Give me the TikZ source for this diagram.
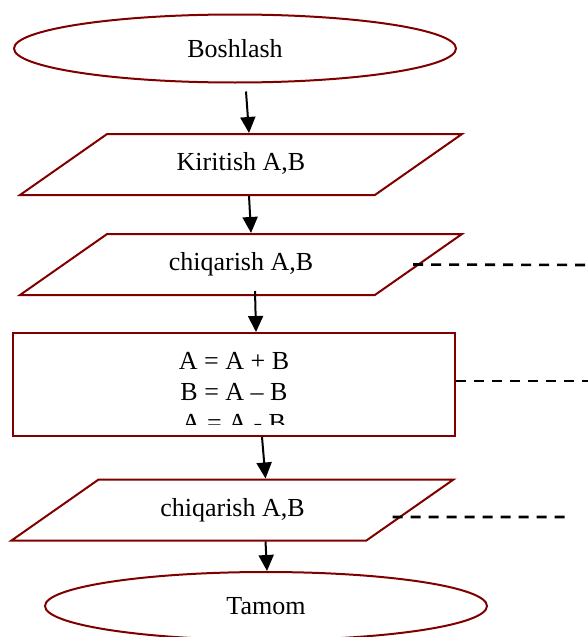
\documentclass[tikz,border=0pt]{standalone}
\usepackage{fontspec}
\setmainfont{Liberation Serif}
\usetikzlibrary{shapes.geometric,arrows.meta}
\definecolor{qizil}{HTML}{800000}
\tikzset{
  chegara/.style={draw=qizil,line width=1pt,inner sep=0pt},
  oval/.style={chegara,ellipse,minimum width=221pt,minimum height=34pt},
  kiritma/.style={chegara,trapezium,trapezium left angle=35,trapezium right angle=145,
    trapezium stretches body,minimum width=221pt,text height=9pt,text depth=3pt,inner ysep=9.25pt},
  blok/.style={chegara,rectangle,minimum width=221pt,minimum height=51.5pt},
  strelka/.style={-{Triangle[length=8pt,width=7.5pt]},line width=1pt},
  uzuq/.style={line width=1.3pt,dash pattern=on 5pt off 4pt}
}
\begin{document}
\begin{tikzpicture}[x=0.5pt,y=-0.5pt,font=\fontsize{13}{15.5}\selectfont]
                \useasboundingbox (0,0) rectangle (588,637);
                % Boshlash
                \node[oval] (boshlash) at (235,48.5) {Boshlash};
                
                % Kiritish
                \node[kiritma] (kiritish) at (241,164.5) {Kiritish A,B};
                
                % chiqarish
                \node[kiritma] (chiq1) at (241,264.5) {chiqarish A,B};
                
                % almashtirish
                \node[blok] (hisob) at (234,384.5) {};
                \begin{scope}
                  \clip (14,334) rectangle (454,424);
                  \node[align=center] (hisobmatn) at (234,392) {A = A + B\\B = A -- B\\A = A - B};
                \end{scope}
                
                % chiqarish
                \node[kiritma] (chiq2) at (232.5,510) {chiqarish A,B};
                
                % Tamom
                \node[oval] (tamom) at (266,606) {Tamom};
                
                % Connections
                \draw[strelka] ([xshift=5.5pt,yshift=-4pt]boshlash.south) -- ([xshift=4pt]kiritish.north);
                \draw[strelka] ([xshift=4pt]kiritish.south) -- ([xshift=5pt]chiq1.north);
                \draw[strelka] ([xshift=7pt,yshift=2.5pt]chiq1.south) -- ([xshift=11pt]hisob.north);
                \draw[strelka] ([xshift=14pt]hisob.south) -- ([xshift=16.5pt]chiq2.north);
                \draw[strelka] ([xshift=16.5pt]chiq2.south) -- ([xshift=0.5pt]tamom.north);
                
                % dashed lines
                \coordinate (u1) at (588,265);
                \coordinate (u2) at (588,381);
                \coordinate (u3) at (570,517);
                \draw[uzuq] ([xshift=-3.5pt]chiq1.east) -- (u1);
                \draw[uzuq] ([yshift=1.75pt]hisob.east) -- (u2);
                \draw[uzuq] ([xshift=-9.5pt,yshift=-3.5pt]chiq2.east) -- (u3);
            \end{tikzpicture}
\end{document}
